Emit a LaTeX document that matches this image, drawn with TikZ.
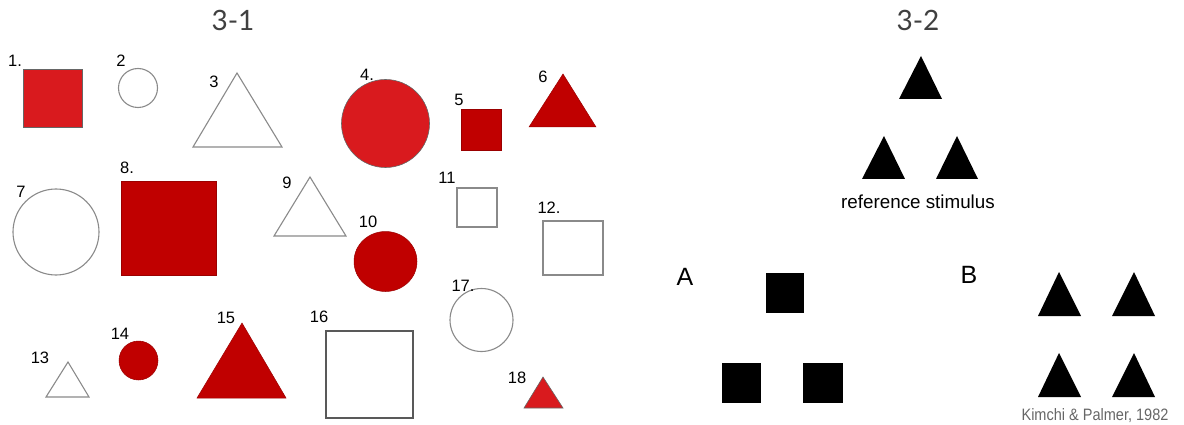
\documentclass[tikz,border=0pt]{standalone}
\usepackage{fontspec}
\setmainfont{Liberation Sans}
\newfontfamily\titlefont{Lato}
\definecolor{brightred}{HTML}{D91A1E}
\definecolor{darkred}{HTML}{C00000}
\definecolor{outl}{HTML}{8A8A8A}
\begin{document}
\begin{tikzpicture}[x=1pt,y=-1pt,
  num/.style={inner sep=0pt,font=\fontsize{16.5}{19}\selectfont},
  ttl/.style={inner sep=0pt,font=\titlefont\fontsize{28}{32}\selectfont,text=black!75},
  openshape/.style={draw=outl,line width=1.1pt,fill=white},
  brightshape/.style={fill=brightred,draw=black!60,line width=0.6pt},
  darkshape/.style={fill=darkred,draw=darkred!80!black,line width=0.5pt},
  blackshape/.style={fill=black}]
\useasboundingbox (0,0) rectangle (1184,425);
% titles
\node[ttl] (t1) at (233,20) {3-1};
\node[ttl] (t2) at (918,20) {3-2};
% ---- 3-1 shapes ----
\draw[brightshape] (23,69) rectangle (82,127);
\node[num] (n1) at (15,61) {1.};
\draw[openshape] (138,88) circle (19.5);
\node[num] (n2) at (121,61) {2};
\draw[openshape] (237,73) -- (282,147) -- (193,147) -- cycle;
\node[num] (n3) at (214,82) {3};
\draw[brightshape] (385.5,123.5) circle (44);
\node[num] (n4) at (367,75) {4.};
\draw[darkshape] (461,109) rectangle (501,150);
\node[num] (n5) at (459,100) {5};
\draw[darkshape] (563,74) -- (596,127) -- (529,127) -- cycle;
\node[num] (n6) at (543,77) {6};
\draw[openshape] (56,232) circle (43);
\node[num] (n7) at (21,192) {7};
\draw[darkshape] (121,181) rectangle (216,275);
\node[num] (n8) at (127,168) {8.};
\draw[openshape] (310,177) -- (346,236) -- (274,236) -- cycle;
\node[num] (n9) at (287,183) {9};
\draw[darkshape] (385.5,261.5) ellipse (31.5 and 30);
\node[num] (n10) at (368,222) {10};
\draw[openshape] (457,188) rectangle (497,227);
\node[num] (n11) at (447,178) {11};
\draw[openshape] (543,221) rectangle (603,275);
\node[num] (n12) at (549,208) {12.};
\draw[openshape] (68,362) -- (89,397) -- (46,397) -- cycle;
\node[num] (n13) at (40,358) {13};
\draw[darkshape] (138.5,360.5) circle (19.5);
\node[num] (n14) at (120,334) {14};
\draw[darkshape] (242,323) -- (286,398) -- (197,398) -- cycle;
\node[num] (n15) at (226,318) {15};
\draw[openshape,draw=black!65] (326,331) rectangle (413,418);
\node[num] (n16) at (319,317) {16};
\draw[openshape] (481.5,320) circle (31.5);
\node[num] (n17) at (463,286) {17.};
\draw[brightshape] (543,377) -- (563,408) -- (524,408) -- cycle;
\node[num] (n18) at (517,378) {18};
% ---- 3-2 ----
\fill[blackshape] (921,56) -- (942,99) -- (899,99) -- cycle;
\fill[blackshape] (884,136) -- (905,179) -- (862,179) -- cycle;
\fill[blackshape] (957,136) -- (978,179) -- (936,179) -- cycle;
\node[inner sep=0pt,font=\fontsize{18.8}{22}\selectfont] (ref) at (918,202) {reference stimulus};
\node[inner sep=0pt,font=\fontsize{25}{28}\selectfont] (la) at (685,277) {A};
\fill[blackshape] (766,273) rectangle (804,313);
\fill[blackshape] (722,363) rectangle (761,403);
\fill[blackshape] (803,363) rectangle (843,403);
\node[inner sep=0pt,font=\fontsize{25}{28}\selectfont] (lb) at (969,275) {B};
\fill[blackshape] (1059,272) -- (1081,316) -- (1038,316) -- cycle;
\fill[blackshape] (1134,272) -- (1155,316) -- (1112,316) -- cycle;
\fill[blackshape] (1059,353) -- (1081,397) -- (1038,397) -- cycle;
\fill[blackshape] (1134,353) -- (1155,397) -- (1112,397) -- cycle;
\node[inner sep=0pt,text=black!60,xscale=0.88,font=\fontsize{16.5}{19}\selectfont] (cite) at (1095,416) {Kimchi \& Palmer, 1982};
\end{tikzpicture}
\end{document}
